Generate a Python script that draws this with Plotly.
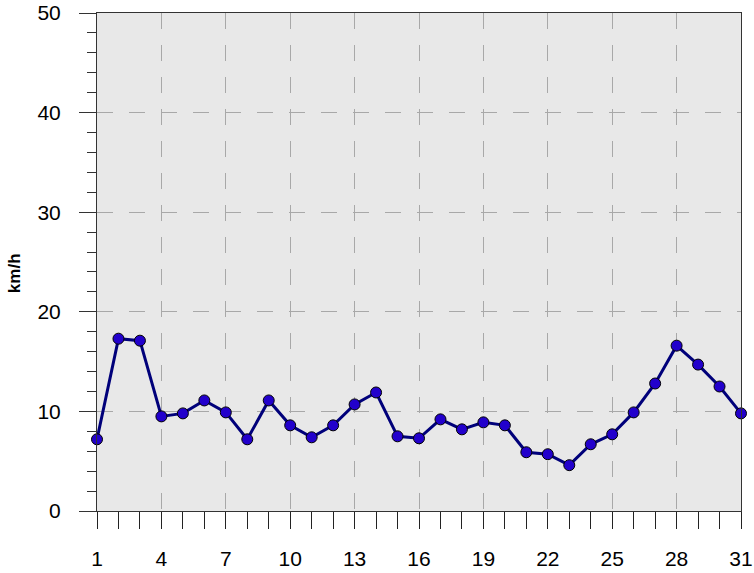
import plotly.graph_objects as go

# Daily wind speed over one month
days = list(range(1, 32))
speed_kmh = [7.2, 17.3, 17.1, 9.5, 9.8, 11.1, 9.9, 7.2, 11.1, 8.6,
             7.4, 8.6, 10.7, 11.9, 7.5, 7.3, 9.2, 8.2, 8.9, 8.6,
             5.9, 5.7, 4.6, 6.7, 7.7, 9.9, 12.8, 16.6, 14.7, 12.5,
             9.8]
x_tick_vals = list(range(1, 32, 3))
y_tick_vals = [0, 10, 20, 30, 40, 50]
y_title = "km/h"

fig = go.Figure()
fig.add_trace(go.Scatter(
    x=days, y=speed_kmh,
    mode="lines+markers",
    line=dict(color="#00007A", width=3),
    marker=dict(size=11, color="#2200CC", line=dict(color="#000000", width=1)),
    cliponaxis=False,
    showlegend=False,
))

axis_font = dict(family="Liberation Sans, Arial, sans-serif", size=21, color="#000000")

fig.update_layout(
    width=754, height=573,
    margin=dict(l=97, r=13, t=13, b=62, autoexpand=False),
    paper_bgcolor="#FFFFFF",
    plot_bgcolor="#E8E8E8",
    font=axis_font,
    xaxis=dict(
        range=[1, 31], automargin=False,
        tickmode="array", tickvals=x_tick_vals,
        ticks="outside", ticklen=17, tickwidth=1, tickcolor="#222222",
        ticklabelstandoff=12,
        minor=dict(dtick=1, tick0=1, ticks="outside", ticklen=17,
                   tickwidth=1, tickcolor="#222222", showgrid=False),
        showgrid=True, gridcolor="#A8A8A8", gridwidth=1, griddash="16px,16px",
        showline=True, linecolor="#333333", linewidth=1, mirror=True,
        zeroline=False, tickfont=axis_font,
    ),
    yaxis=dict(
        range=[0, 50], automargin=False,
        tickmode="array", tickvals=y_tick_vals,
        ticks="outside", ticklen=17, tickwidth=1, tickcolor="#333333",
        ticklabelstandoff=14,
        minor=dict(dtick=2, tick0=0, ticks="outside", ticklen=9,
                   tickwidth=1, tickcolor="#333333", showgrid=False),
        showgrid=True, gridcolor="#A8A8A8", gridwidth=1, griddash="16px,16px",
        showline=True, linecolor="#333333", linewidth=1, mirror=True,
        zeroline=False, tickfont=axis_font,
    ),
    annotations=[dict(
        text="<b>" + y_title + "</b>", textangle=-90,
        xref="paper", yref="paper", x=-0.127, y=0.478,
        xanchor="center", yanchor="middle", showarrow=False,
        font=dict(family="Liberation Sans, Arial, sans-serif", size=17, color="#000000"),
    )],
)

fig.write_html("out.html")
